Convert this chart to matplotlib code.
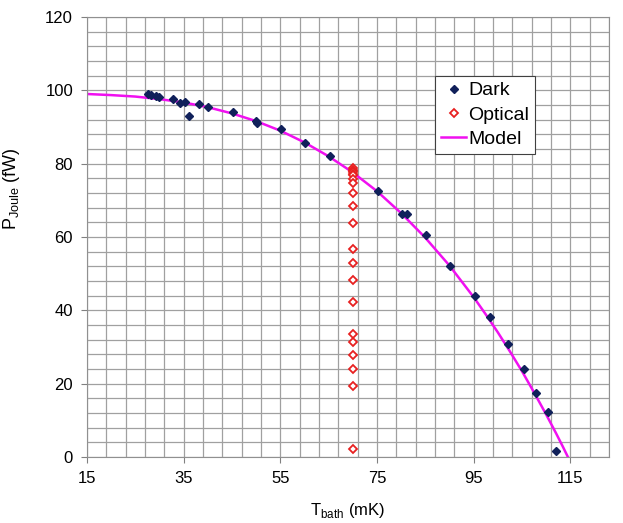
import numpy as np
import matplotlib
matplotlib.use("Agg")
import matplotlib.pyplot as plt

plt.rcParams['font.family'] = ['Liberation Sans', 'DejaVu Sans']
plt.rcParams['mathtext.fontset'] = 'custom'
plt.rcParams['mathtext.rm'] = 'Liberation Sans'

# dark measurements (T_bath mK, P_Joule fW)
dark_t = [27.7, 28.2, 29.3, 30.0, 32.8, 34.2, 35.2, 36.2, 38.2, 40.1, 45.2,
          49.9, 50.2, 55.2, 60.2, 65.2, 75.2, 80.1, 81.2, 85.2, 90.1, 95.3,
          98.3, 102.2, 105.4, 108.0, 110.4, 112.1]
dark_p = [99.0, 98.7, 98.5, 98.2, 97.7, 96.6, 96.9, 93.0, 96.2, 95.4, 94.2,
          91.7, 91.2, 89.4, 85.5, 82.1, 72.6, 66.4, 66.3, 60.5, 52.1, 44.0,
          38.3, 30.8, 24.0, 17.5, 12.4, 1.5]

# optical measurements, all at ~70 mK
opt_t = [70.0] * 21
opt_p = [78.8, 78.4, 78.0, 77.6, 77.2, 76.8, 75.8, 74.6, 71.9, 68.4, 63.8,
         56.8, 52.8, 48.2, 42.4, 33.5, 31.4, 27.7, 24.0, 19.4, 2.1]

# model curve
model_t = [15, 20, 25, 30, 35, 40, 45, 50, 55, 60, 65, 70, 75, 80, 85, 90,
           95, 97.5, 100, 102.5, 105, 107.5, 110, 112, 113.5, 114.5]
model_p = [99.0, 98.7, 98.3, 97.6, 96.7, 95.4, 93.7, 91.6, 89.0, 85.8, 82.0,
           77.6, 72.5, 66.5, 59.8, 52.2, 43.6, 38.9, 34.0, 28.8, 23.4, 17.6,
           11.6, 6.6, 2.7, 0.0]

x_ticks = [15, 35, 55, 75, 95, 115]
y_ticks = [0, 20, 40, 60, 80, 100, 120]

fig = plt.figure(figsize=(6.23, 5.23), dpi=100)
ax = fig.add_axes([0.1396, 0.1262, 0.8379, 0.8413])

ax.set_xlim(15, 123)
ax.set_ylim(0, 120)
ax.set_xticks(x_ticks)
ax.set_yticks(y_ticks)
ax.set_xticks(np.arange(15, 124, 4), minor=True)
ax.set_yticks(np.arange(0, 121, 4), minor=True)
ax.grid(which='both', color='#a0a0a0', lw=0.9)
ax.set_axisbelow(True)
ax.tick_params(which='minor', length=0)
ax.tick_params(which='major', direction='out', length=4, color='#808080',
               labelsize=12, pad=6)
for s in ax.spines.values():
    s.set_color('#909090')

ax.plot(model_t, model_p, color='#f010f0', lw=1.8, label='Model', zorder=2)
ax.plot(dark_t, dark_p, ls='none', marker='D', ms=4.2, color='#10205a',
        label='Dark', zorder=3)
ax.plot(opt_t, opt_p, ls='none', marker='D', ms=4.0, mfc='white',
        mec='#e82020', mew=1.3, label='Optical', zorder=4)

ax.set_xlabel(r'T$_{\rm bath}$ (mK)', fontsize=12, labelpad=11)
ax.set_ylabel(r'P$_{\rm Joule}$ (fW)', fontsize=13)
ax.yaxis.set_label_coords(-0.125, 0.61)

h, l = ax.get_legend_handles_labels()
order = [1, 2, 0]
leg = ax.legend([h[i] for i in order], [l[i] for i in order],
                loc='upper left', bbox_to_anchor=(0.667, 0.866),
                borderaxespad=0, fontsize=14, fancybox=False, framealpha=1,
                edgecolor='#404040', handlelength=1.3, handletextpad=0.1,
                labelspacing=0.35, borderpad=0.3)
leg.get_frame().set_linewidth(0.8)

fig.savefig('out.png', dpi=100)
